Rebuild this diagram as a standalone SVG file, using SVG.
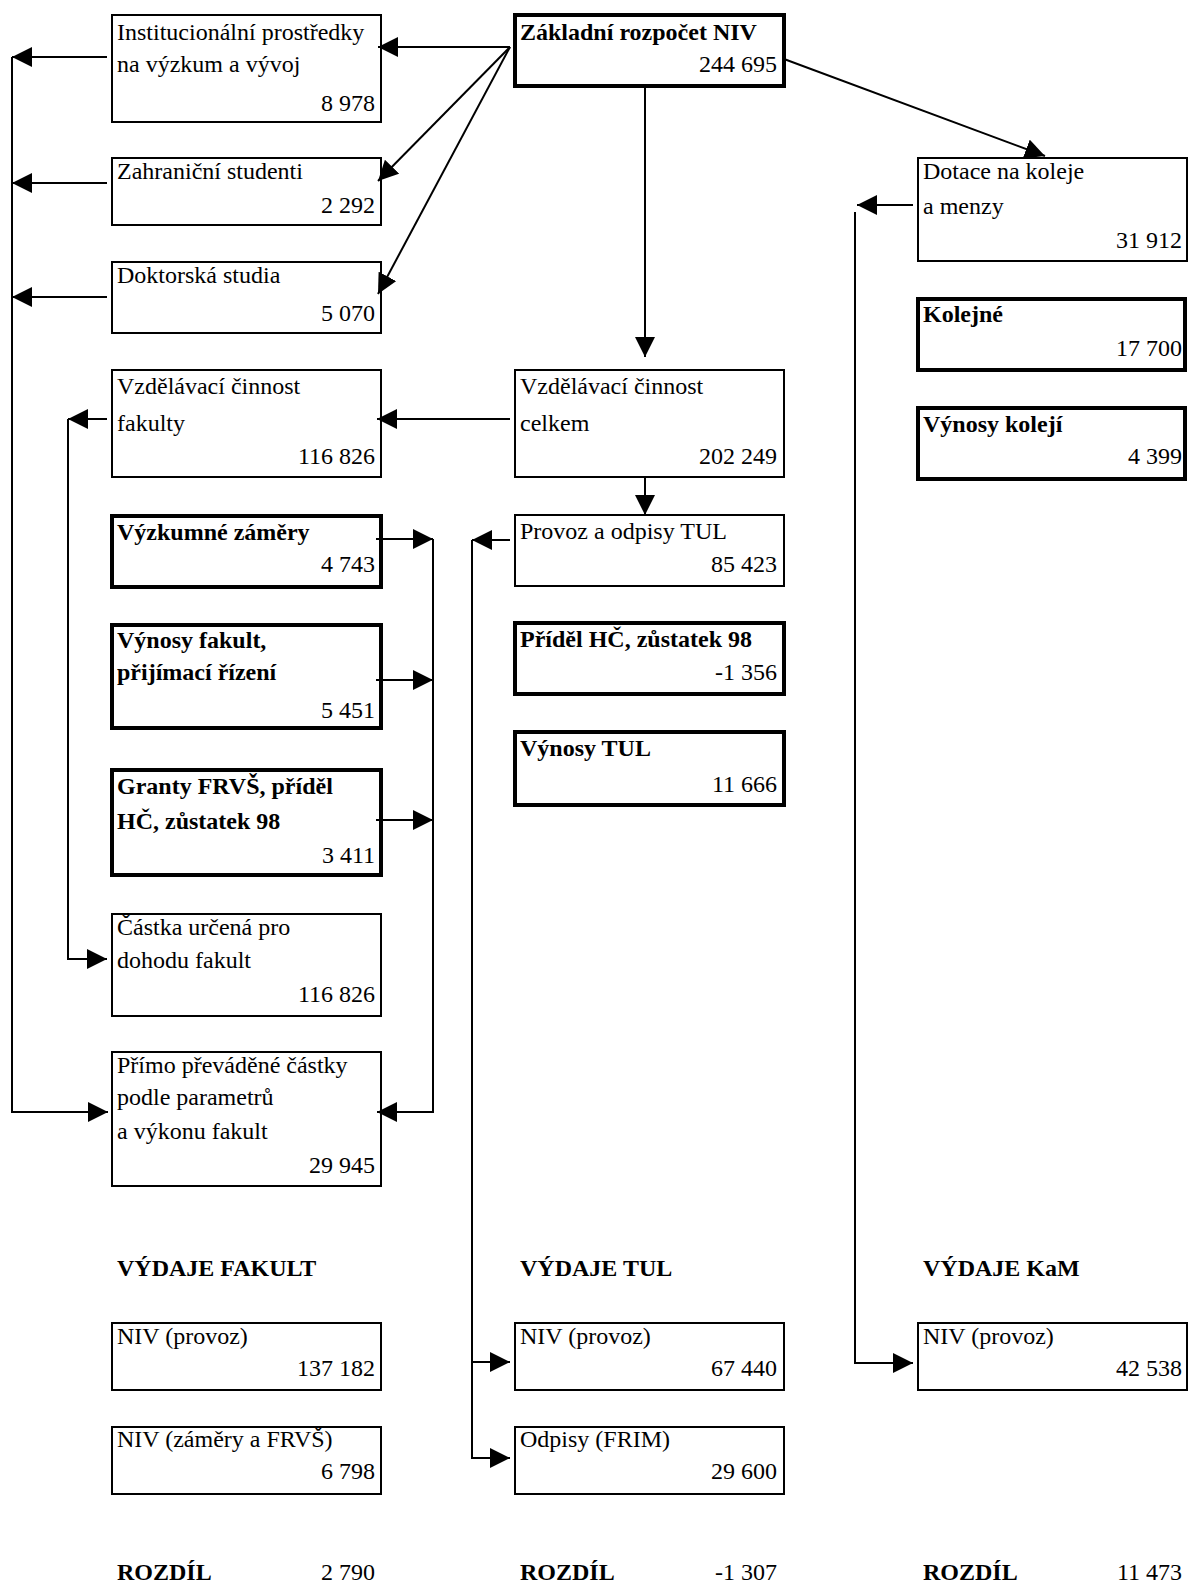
<svg xmlns="http://www.w3.org/2000/svg" width="1188" height="1586" viewBox="0 0 1188 1586">
  <style>
    text { font-family: "Liberation Serif", "Times New Roman", serif; font-size: 24px; fill: #000; }
    .b { font-weight: bold; }
    .n { text-anchor: end; }
    .box { fill: #fff; stroke: #000; stroke-width: 2; }
    .thick { fill: #fff; stroke: #000; stroke-width: 4; }
    .ln { fill: none; stroke: #000; stroke-width: 2; }
  </style>
  <defs>
    <marker id="arrow" markerUnits="userSpaceOnUse" markerWidth="20" markerHeight="20" refX="20" refY="10" orient="auto">
      <path d="M0,0 L20,10 L0,20 Z" fill="#000"/>
    </marker>
  </defs>
  <rect width="1188" height="1586" fill="#fff"/>

  <!-- left column: faculty budget items -->
  <g id="institucionalni">
    <rect class="box" x="112" y="15" width="269" height="107"/>
    <text x="117" y="40">Institucionální prostředky</text>
    <text x="117" y="72">na výzkum a vývoj</text>
    <text class="n" x="375" y="111">8 978</text>
  </g>
  <g id="zahranicni">
    <rect class="box" x="112" y="158" width="269" height="67"/>
    <text x="117" y="179">Zahraniční studenti</text>
    <text class="n" x="375" y="213">2 292</text>
  </g>
  <g id="doktorska">
    <rect class="box" x="112" y="262" width="269" height="71"/>
    <text x="117" y="283">Doktorská studia</text>
    <text class="n" x="375" y="321">5 070</text>
  </g>
  <g id="vzdelavaci-fakulty">
    <rect class="box" x="112" y="370" width="269" height="107"/>
    <text x="117" y="394">Vzdělávací činnost</text>
    <text x="117" y="431">fakulty</text>
    <text class="n" x="375" y="464">116 826</text>
  </g>
  <g id="vyzkumne-zamery">
    <rect class="thick" x="112" y="516" width="269" height="71"/>
    <text class="b" x="117" y="540">Výzkumné záměry</text>
    <text class="n" x="375" y="572">4 743</text>
  </g>
  <g id="vynosy-fakult">
    <rect class="thick" x="112" y="625" width="269" height="103"/>
    <text class="b" x="117" y="648">Výnosy fakult,</text>
    <text class="b" x="117" y="680">přijímací řízení</text>
    <text class="n" x="375" y="718">5 451</text>
  </g>
  <g id="granty-frvs">
    <rect class="thick" x="112" y="770" width="269" height="105"/>
    <text class="b" x="117" y="794">Granty FRVŠ, příděl</text>
    <text class="b" x="117" y="829">HČ, zůstatek 98</text>
    <text class="n" x="375" y="863">3 411</text>
  </g>
  <g id="castka-dohoda">
    <rect class="box" x="112" y="914" width="269" height="102"/>
    <text x="117" y="935">Částka určená pro</text>
    <text x="117" y="968">dohodu fakult</text>
    <text class="n" x="375" y="1002">116 826</text>
  </g>
  <g id="primo-prevadene">
    <rect class="box" x="112" y="1052" width="269" height="134"/>
    <text x="117" y="1073">Přímo převáděné částky</text>
    <text x="117" y="1105">podle parametrů</text>
    <text x="117" y="1139">a výkonu fakult</text>
    <text class="n" x="375" y="1173">29 945</text>
  </g>

  <!-- middle column: university budget -->
  <g id="zakladni-rozpocet">
    <rect class="thick" x="515" y="15" width="269" height="71"/>
    <text class="b" x="520" y="40">Základní rozpočet NIV</text>
    <text class="n" x="777" y="72">244 695</text>
  </g>
  <g id="vzdelavaci-celkem">
    <rect class="box" x="515" y="370" width="269" height="107"/>
    <text x="520" y="394">Vzdělávací činnost</text>
    <text x="520" y="431">celkem</text>
    <text class="n" x="777" y="464">202 249</text>
  </g>
  <g id="provoz-odpisy">
    <rect class="box" x="515" y="515" width="269" height="71"/>
    <text x="520" y="539">Provoz a odpisy TUL</text>
    <text class="n" x="777" y="572">85 423</text>
  </g>
  <g id="pridel-hc">
    <rect class="thick" x="515" y="623" width="269" height="71"/>
    <text class="b" x="520" y="647">Příděl HČ, zůstatek 98</text>
    <text class="n" x="777" y="680">-1 356</text>
  </g>
  <g id="vynosy-tul">
    <rect class="thick" x="515" y="732" width="269" height="73"/>
    <text class="b" x="520" y="756">Výnosy TUL</text>
    <text class="n" x="777" y="792">11 666</text>
  </g>

  <!-- right column: dormitories and canteens -->
  <g id="dotace-koleje">
    <rect class="box" x="918" y="158" width="269" height="103"/>
    <text x="923" y="179">Dotace na koleje</text>
    <text x="923" y="214">a menzy</text>
    <text class="n" x="1182" y="248">31 912</text>
  </g>
  <g id="kolejne">
    <rect class="thick" x="918" y="299" width="267" height="71"/>
    <text class="b" x="923" y="322">Kolejné</text>
    <text class="n" x="1182" y="356">17 700</text>
  </g>
  <g id="vynosy-koleji">
    <rect class="thick" x="918" y="408" width="267" height="71"/>
    <text class="b" x="923" y="432">Výnosy kolejí</text>
    <text class="n" x="1182" y="464">4 399</text>
  </g>

  <!-- expenditure section -->
  <g id="vydaje-fakult">
    <text class="b" x="117" y="1276">VÝDAJE FAKULT</text>
  </g>
  <g id="fakult-niv-provoz">
    <rect class="box" x="112" y="1323" width="269" height="67"/>
    <text x="117" y="1344">NIV (provoz)</text>
    <text class="n" x="375" y="1376">137 182</text>
  </g>
  <g id="fakult-niv-zamery">
    <rect class="box" x="112" y="1427" width="269" height="67"/>
    <text x="117" y="1447">NIV (záměry a FRVŠ)</text>
    <text class="n" x="375" y="1479">6 798</text>
  </g>
  <g id="rozdil-fakult">
    <text class="b" x="117" y="1580">ROZDÍL</text>
    <text class="n" x="375" y="1580">2 790</text>
  </g>

  <g id="vydaje-tul">
    <text class="b" x="520" y="1276">VÝDAJE TUL</text>
  </g>
  <g id="tul-niv-provoz">
    <rect class="box" x="515" y="1323" width="269" height="67"/>
    <text x="520" y="1344">NIV (provoz)</text>
    <text class="n" x="777" y="1376">67 440</text>
  </g>
  <g id="tul-odpisy">
    <rect class="box" x="515" y="1427" width="269" height="67"/>
    <text x="520" y="1447">Odpisy (FRIM)</text>
    <text class="n" x="777" y="1479">29 600</text>
  </g>
  <g id="rozdil-tul">
    <text class="b" x="520" y="1580">ROZDÍL</text>
    <text class="n" x="777" y="1580">-1 307</text>
  </g>

  <g id="vydaje-kam">
    <text class="b" x="923" y="1276">VÝDAJE KaM</text>
  </g>
  <g id="kam-niv-provoz">
    <rect class="box" x="918" y="1323" width="269" height="67"/>
    <text x="923" y="1344">NIV (provoz)</text>
    <text class="n" x="1182" y="1376">42 538</text>
  </g>
  <g id="rozdil-kam">
    <text class="b" x="923" y="1580">ROZDÍL</text>
    <text class="n" x="1182" y="1580">11 473</text>
  </g>

  <!-- connectors -->
  <g id="connectors">
    <!-- from the base budget -->
    <line class="ln" x1="510" y1="47" x2="378" y2="47" marker-end="url(#arrow)"/>
    <line class="ln" x1="510" y1="47" x2="378" y2="181" marker-end="url(#arrow)"/>
    <line class="ln" x1="510" y1="47" x2="378" y2="294" marker-end="url(#arrow)"/>
    <line class="ln" x1="784" y1="59" x2="1045" y2="156" marker-end="url(#arrow)"/>
    <line class="ln" x1="645" y1="87" x2="645" y2="357" marker-end="url(#arrow)"/>
    <line class="ln" x1="645" y1="478" x2="645" y2="515" marker-end="url(#arrow)"/>
    <line class="ln" x1="510" y1="419" x2="377" y2="419" marker-end="url(#arrow)"/>

    <!-- outer left bus to directly transferred amounts -->
    <line class="ln" x1="107" y1="57" x2="12" y2="57" marker-end="url(#arrow)"/>
    <line class="ln" x1="107" y1="183" x2="12" y2="183" marker-end="url(#arrow)"/>
    <line class="ln" x1="107" y1="297" x2="12" y2="297" marker-end="url(#arrow)"/>
    <polyline class="ln" points="12,57 12,1112 108,1112" marker-end="url(#arrow)"/>

    <!-- inner left bus: faculty education to agreed amount -->
    <line class="ln" x1="107" y1="419" x2="68" y2="419" marker-end="url(#arrow)"/>
    <polyline class="ln" points="68,419 68,959 107,959" marker-end="url(#arrow)"/>

    <!-- right bus of faculty column -->
    <line class="ln" x1="376" y1="539" x2="433" y2="539" marker-end="url(#arrow)"/>
    <line class="ln" x1="376" y1="680" x2="433" y2="680" marker-end="url(#arrow)"/>
    <line class="ln" x1="376" y1="820" x2="433" y2="820" marker-end="url(#arrow)"/>
    <polyline class="ln" points="433,539 433,1112 377,1112" marker-end="url(#arrow)"/>

    <!-- university operations bus -->
    <line class="ln" x1="510" y1="540" x2="472" y2="540" marker-end="url(#arrow)"/>
    <polyline class="ln" points="472,540 472,1458 510,1458" marker-end="url(#arrow)"/>
    <line class="ln" x1="472" y1="1362" x2="510" y2="1362" marker-end="url(#arrow)"/>

    <!-- dormitories bus -->
    <line class="ln" x1="913" y1="205" x2="857" y2="205" marker-end="url(#arrow)"/>
    <polyline class="ln" points="855,212 855,1363 913,1363" marker-end="url(#arrow)"/>
  </g>
</svg>
